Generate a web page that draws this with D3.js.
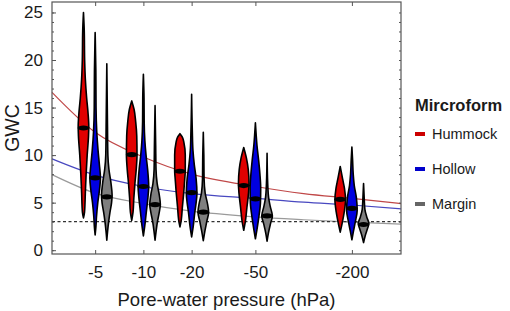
<!DOCTYPE html>
<html>
<head>
<meta charset="utf-8">
<script src="https://cdn.jsdelivr.net/npm/d3@7"></script>
<style>
    body { margin: 0; background: #ffffff; }
    svg text { font-family: Arial, "Liberation Sans", sans-serif; fill: #1a1a1a; }
</style>
</head>
<body>
<svg id="chart" width="510" height="311"></svg>
<script>

// pressures (hPa, shown negative) and microforms
var pressures = [ 5, 10, 20, 50, 200 ];
var microforms = [ 'Hummock', 'Hollow', 'Margin' ];
var yTicks = [ 0, 5, 10, 15, 20, 25 ];

// violin profiles: [ GWC, relative density ] per pressure, bottom to top
var hummockViolins = [
    [ [3.4,0],[4,0.2],[6,0.35],[8,0.5],[10,0.7],[12,0.95],[13,1],[14.5,0.85],[16,0.6],[18,0.35],[20,0.22],[23,0.15],[25,0] ],
    [ [3.15,0],[4,0.25],[5.5,0.4],[7,0.6],[8.5,0.85],[10,1],[12,0.95],[13.5,0.75],[14.8,0.45],[15.7,0] ],
    [ [2.45,0],[3.2,0.25],[4.5,0.45],[6,0.7],[7.5,0.9],[8.3,1],[10,1],[11.3,0.75],[11.9,0.45],[12.25,0] ],
    [ [2.1,0],[3,0.3],[4.5,0.6],[6,0.9],[7,1],[8.5,0.85],[9.7,0.5],[10.8,0] ],
    [ [1.9,0],[2.8,0.35],[4,0.75],[5.3,1],[6.5,0.8],[7.5,0.45],[8.8,0] ]
];
var hollowViolins = [
    [ [1.6,0],[2.5,0.15],[3.5,0.25],[5,0.5],[6.5,0.85],[7.6,1],[9,0.8],[10.5,0.55],[12.5,0.3],[15,0.17],[19,0.13],[22.9,0] ],
    [ [1.5,0],[2.5,0.25],[4,0.55],[5.5,0.85],[6.7,1],[8.5,0.8],[10,0.5],[11.5,0.28],[13.5,0.15],[16,0.12],[18.5,0] ],
    [ [1.4,0],[2.5,0.3],[4,0.6],[5,0.85],[6,1],[7.5,0.85],[9,0.5],[10.5,0.25],[12.5,0.13],[16.4,0] ],
    [ [1.2,0],[2.2,0.3],[3.5,0.65],[5,0.95],[6.5,1],[8,0.85],[9.5,0.6],[11,0.3],[12,0.16],[13.4,0] ],
    [ [1.1,0],[2,0.3],[3,0.65],[4.2,1],[5.5,0.85],[6.8,0.45],[8,0.25],[9.5,0.13],[10.85,0] ]
];
var marginViolins = [
    [ [1.05,0],[2,0.15],[3,0.35],[4,0.6],[5,0.9],[5.8,1],[7,0.8],[8.5,0.4],[10,0.2],[13,0.13],[19.6,0] ],
    [ [1.05,0],[2,0.2],[3,0.45],[4,0.8],[4.8,1],[5.8,0.8],[7,0.4],[8.5,0.18],[11,0.12],[15.2,0] ],
    [ [1,0],[2,0.3],[3,0.65],[4,1],[5,0.75],[6,0.35],[7.5,0.15],[10,0.1],[12.4,0] ],
    [ [0.95,0],[1.8,0.25],[2.8,0.65],[3.6,1],[4.6,0.6],[5.5,0.3],[7,0.12],[10.2,0] ],
    [ [0.8,0],[1.5,0.3],[2.2,0.7],[2.8,1],[3.5,0.6],[4.3,0.25],[5.5,0.12],[7,0] ]
];

// medians per pressure
var hummockMedians = [ 12.85, 10.05, 8.3, 6.8, 5.35 ];
var hollowMedians = [ 7.6, 6.7, 6.05, 5.4, 4.4 ];
var marginMedians = [ 5.6, 4.8, 4.0, 3.6, 2.7 ];

// fitted retention curves: [ pressure, GWC ]
var hummockFit = [ [2.69,16.6],[5,12.4],[10,9.8],[20,8.0],[50,6.7],[100,5.95],[200,5.45],[405,4.9] ];
var hollowFit = [ [2.69,9.6],[5,7.9],[10,6.7],[20,5.95],[50,5.45],[100,5.05],[200,4.75],[405,4.35] ];
var marginFit = [ [2.69,7.95],[5,6.0],[10,4.9],[20,4.1],[50,3.5],[100,3.2],[200,2.95],[405,2.75] ];

var referenceLine = 3.0;

var violinColors = { Hummock: '#e00000', Hollow: '#0000e0', Margin: '#7f7f7f' };
var fitColors = { Hummock: '#c04848', Hollow: '#4848c0', Margin: '#9a9a9a' };

var svg = d3.select('#chart');

var margin = { left: 52, top: 2, right: 109, bottom: 57 };
var width = 510 - margin.left - margin.right,
    height = 311 - margin.top - margin.bottom;

var x = d3.scaleLog()
    .domain([ 2.69, 405 ])
    .range([ 0, width ]);

var y = d3.scaleLinear()
    .domain([ -0.4, 26.1 ])
    .range([ height, 0 ]);

// position of each microform inside a pressure group
var offset = d3.scaleBand()
    .domain( microforms )
    .range([ -17.5, 17.5 ]);

var halfWidth = d3.scaleLinear()
    .domain([ 0, 1 ])
    .range([ 0, 5.3 ]);

var g = svg.append('g')
    .attr('transform', 'translate(' + margin.left + ',' + margin.top + ')');

/* fitted curves + reference line */

var fitLine = d3.line()
    .x( function ( d ) { return x( d[0] ); })
    .y( function ( d ) { return y( d[1] ); })
    .curve( d3.curveMonotoneX );

var fits = { Hummock: hummockFit, Hollow: hollowFit, Margin: marginFit };

microforms.forEach( function ( m ) {

    g.append('path')
        .attr('d', fitLine( fits[ m ] ))
        .attr('fill', 'none')
        .attr('stroke', fitColors[ m ])
        .attr('stroke-width', 1.2);

});

g.append('line')
    .attr('x1', 0)
    .attr('x2', width)
    .attr('y1', y( referenceLine ))
    .attr('y2', y( referenceLine ))
    .attr('stroke', '#333')
    .attr('stroke-width', 1.1)
    .attr('stroke-dasharray', '3,2.5');

/* violins */

var violins = { Hummock: hummockViolins, Hollow: hollowViolins, Margin: marginViolins };
var medians = { Hummock: hummockMedians, Hollow: hollowMedians, Margin: marginMedians };

microforms.forEach( function ( m ) {

    pressures.forEach( function ( p, i ) {

        var cx = x( p ) + offset( m ) + offset.bandwidth() / 2;
        var profile = violins[ m ][ i ];

        var area = d3.area()
            .y( function ( d ) { return y( d[0] ); })
            .x0( function ( d ) { return cx - halfWidth( d[1] ); })
            .x1( function ( d ) { return cx + halfWidth( d[1] ); })
            .curve( d3.curveMonotoneY );

        g.append('path')
            .attr('d', area( profile ))
            .attr('fill', violinColors[ m ])
            .attr('stroke', '#000')
            .attr('stroke-width', 1.6)
            .attr('stroke-linejoin', 'round');

        // median marker
        var med = medians[ m ][ i ];
        var dens = d3.scaleLinear()
            .domain( profile.map( function ( d ) { return d[0]; }) )
            .range( profile.map( function ( d ) { return d[1]; }) );

        g.append('ellipse')
            .attr('cx', cx)
            .attr('cy', y( med ))
            .attr('rx', halfWidth( dens( med ) ) + 0.6)
            .attr('ry', 2.6)
            .attr('fill', '#000');

    });

});

/* axes frame */

var axisColor = '#555';

var bottomAxis = g.append('g')
    .attr('transform', 'translate(0,' + height + ')')
    .call( d3.axisBottom( x )
        .tickValues( pressures )
        .tickSize( -4 )
        .tickPadding( 12 )
        .tickFormat( function ( d ) { return '-' + d; }) );

var topAxis = g.append('g')
    .call( d3.axisTop( x )
        .tickValues( pressures )
        .tickSize( -4 )
        .tickFormat('') );

var leftAxis = g.append('g')
    .call( d3.axisLeft( y )
        .tickValues( yTicks )
        .tickSize( -4 )
        .tickPadding( 9 ) );

var leftMinor = g.append('g')
    .call( d3.axisLeft( y )
        .tickValues( d3.range( 0, 26 ) )
        .tickSize( -2 )
        .tickFormat('') );

var rightAxis = g.append('g')
    .attr('transform', 'translate(' + width + ',0)')
    .call( d3.axisRight( y )
        .tickValues( d3.range( 0, 26 ) )
        .tickSize( -2 )
        .tickFormat('') );

[ bottomAxis, topAxis, leftAxis, leftMinor, rightAxis ].forEach( function ( a ) {

    a.selectAll('.tick line')
        .attr('stroke', axisColor);

    a.selectAll('.tick text')
        .style('font-size', '17px')
        .attr('fill', '#1a1a1a');

});

// replace the axis domains with a plain frame
g.selectAll('.domain').remove();

g.append('rect')
    .attr('x', 0)
    .attr('y', 0)
    .attr('width', width)
    .attr('height', height)
    .attr('fill', 'none')
    .attr('stroke', axisColor)
    .attr('stroke-width', 1.2);

/* axis titles */

svg.append('text')
    .attr('x', margin.left + width / 2)
    .attr('y', 306)
    .attr('text-anchor', 'middle')
    .style('font-size', '18.5px')
    .text('Pore-water pressure (hPa)');

svg.append('text')
    .attr('transform', 'translate(19,' + ( margin.top + height / 2 ) + ') rotate(-90)')
    .attr('text-anchor', 'middle')
    .style('font-size', '19.5px')
    .text('GWC');

/* legend */

var legend = svg.append('g')
    .attr('transform', 'translate(415,0)');

legend.append('text')
    .attr('x', 0)
    .attr('y', 111)
    .style('font-size', '16.5px')
    .style('font-weight', 'bold')
    .text('Mircroform');

var legendY = d3.scalePoint()
    .domain( microforms )
    .range([ 134, 204 ]);

var legendColors = { Hummock: '#cc0000', Hollow: '#0000cc', Margin: '#666666' };

microforms.forEach( function ( m ) {

    legend.append('line')
        .attr('x1', 0)
        .attr('x2', 10)
        .attr('y1', legendY( m ))
        .attr('y2', legendY( m ))
        .attr('stroke', legendColors[ m ])
        .attr('stroke-width', 4);

    legend.append('text')
        .attr('x', 17)
        .attr('y', legendY( m ))
        .attr('dy', '0.36em')
        .style('font-size', '14.5px')
        .text( m );

});

</script>
</body>
</html>
